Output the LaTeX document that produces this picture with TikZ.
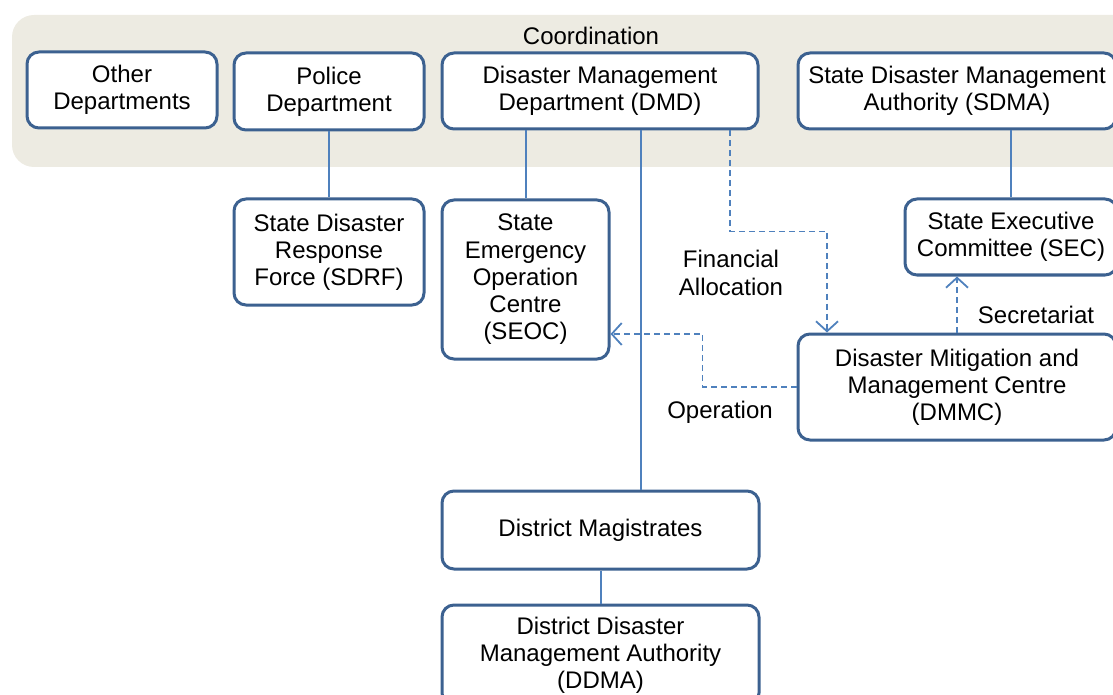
\documentclass[tikz,border=0pt]{standalone}
\usepackage{fontspec}
\setmainfont{Liberation Sans}
\usepackage{xcolor}
\usepackage{tikz}
\usetikzlibrary{arrows.meta,positioning,calc}
\definecolor{ink}{HTML}{000000}
\definecolor{boxline}{HTML}{3C6190}
\definecolor{linkblue}{HTML}{4F81BD}
\definecolor{bandtan}{HTML}{EDEBE2}
\tikzset{
  >={Straight Barb[length=5pt,width=11pt,line width=.9pt]},
  unit/.style={draw=boxline,line width=1.5pt,rounded corners=6pt,fill=white,align=center,
    inner sep=2pt,font=\fontsize{12}{13.6}\selectfont,text=ink},
  band/.style={fill=bandtan,rounded corners=11pt},
  tag/.style={align=center,font=\fontsize{12}{13.6}\selectfont,text=ink},
  link/.style={draw=linkblue,line width=1pt},
  dashlink/.style={->,draw=linkblue,line width=.9pt,dash pattern=on 3pt off 2pt},
}

\begin{document}
\begin{tikzpicture}[x=.5pt,y=-.5pt]
  \useasboundingbox (0,0) rectangle (1113,695);
  % coordination band
  \fill[band] (12,15) rectangle (1135,167);
  \node[tag] (coordination) at (591,36) {Coordination};
  % top row
  \node[unit,minimum width=95pt,minimum height=38pt] (other) at (122,90) {Other\\Departments};
  \node[unit,minimum width=95pt,minimum height=38.5pt] (police) at (329,91.5) {Police\\Department};
  \node[unit,minimum width=158pt,minimum height=38pt] (dmd) at (600,91) {Disaster Management\\Department (DMD)};
  \node[unit,minimum width=159pt,minimum height=38pt] (sdma) at (957,91) {State Disaster Management\\Authority (SDMA)};
  % second level
  \node[unit,minimum width=95pt,minimum height=53pt] (sdrf) at (329,252) {State Disaster\\Response\\Force (SDRF)};
  \node[unit,minimum width=83.5pt,minimum height=79.5pt] (seoc) at (525.5,279.5) {State\\Emergency\\Operation\\Centre\\(SEOC)};
  \node[unit,minimum width=106pt,minimum height=38pt] (sec) at (1011,237) {State Executive\\Committee (SEC)};
  \node[unit,minimum width=159pt,minimum height=53pt] (dmmc) at (957,387) {Disaster Mitigation and\\Management Centre\\(DMMC)};
  % district level
  \node[unit,minimum width=158.5pt,minimum height=39pt] (dm) at (600.5,530) {District Magistrates};
  \node[unit,minimum width=158.5pt,minimum height=50pt] (ddma) at (600.5,655) {District Disaster\\Management Authority\\(DDMA)};
  % solid links
  \draw[link] (police.south) -- (sdrf.north);
  \draw[link] (seoc.north) -- (seoc.north |- dmd.south);
  \draw[link] ([xshift=20.5pt]dmd.south) -- ([xshift=20.25pt]dm.north);
  \draw[link] (sec.north) -- (sec.north |- sdma.south);
  \draw[link] (dm.south) -- (ddma.north);
  % dashed flows
  \draw[dashlink] ([xshift=65pt]dmd.south) -- ++(0,101) -| ([xshift=-65pt]dmmc.north);
  \draw[dashlink] (dmmc.west) -- ++(-94,0) |- ([yshift=-27.25pt]seoc.east);
  \draw[dashlink] (dmmc.north) -- (dmmc.north |- sec.south);
  \node[tag] (finance) at (731,273) {Financial\\Allocation};
  \node[tag] (operation) at (720,412) {Operation};
  \node[tag] (secretariat) at (1036,315) {Secretariat};
\end{tikzpicture}
\end{document}
